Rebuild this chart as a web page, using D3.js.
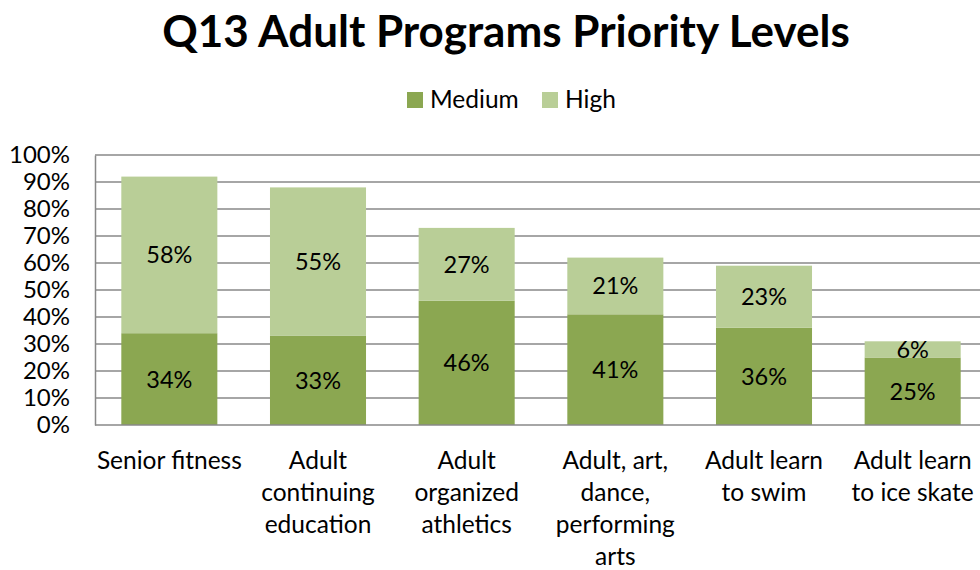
<!DOCTYPE html>
<html>
<head>
<meta charset="utf-8">
<script src="https://cdn.jsdelivr.net/npm/d3@7"></script>
<style>
  html, body { margin: 0; padding: 0; background: #fff; }
  svg { display: block; }
  text { font-family: "Lato", "Open Sans", "Noto Sans", sans-serif; fill: #000; }
</style>
</head>
<body>
<svg id="chart" width="980" height="570"></svg>
<script>
// Categories (multi-line axis labels) and stacked series values, in percent
const categories = [
  ["Senior fitness"],
  ["Adult", "continuing", "education"],
  ["Adult", "organized", "athletics"],
  ["Adult, art,", "dance,", "performing", "arts"],
  ["Adult learn", "to swim"],
  ["Adult learn", "to ice skate"]
];
const medium = [34, 33, 46, 41, 36, 25];
const high = [58, 55, 27, 21, 23, 6];
const seriesNames = ["Medium", "High"];
const yTicks = [0, 10, 20, 30, 40, 50, 60, 70, 80, 90, 100];

const colors = { Medium: "#8BA751", High: "#B9CE97" };

const svg = d3.select("#chart");
const W = 980, H = 570;
const plot = { left: 95, right: 987, top: 155, bottom: 425 };

const keys = categories.map((c, i) => i);
const x = d3.scaleBand()
  .domain(keys)
  .range([plot.left, plot.right])
  .paddingInner(0.354)
  .paddingOuter(0.177);
const y = d3.scaleLinear().domain([0, 100]).range([plot.bottom, plot.top]);

// Title
svg.append("text")
  .attr("x", 506).attr("y", 47)
  .attr("text-anchor", "middle")
  .style("font-size", "44px")
  .style("font-weight", "bold")
  .text("Q13 Adult Programs Priority Levels");

// Legend
const legend = svg.append("g");
const legendItems = [
  { name: "Medium", x: 407 },
  { name: "High", x: 542 }
];
legendItems.forEach(d => {
  legend.append("rect")
    .attr("x", d.x).attr("y", 92)
    .attr("width", 16).attr("height", 16)
    .attr("fill", colors[d.name]);
  legend.append("text")
    .attr("x", d.x + 23).attr("y", 108)
    .style("font-size", "24.5px")
    .text(d.name);
});

// Gridlines
svg.append("g")
  .selectAll("line")
  .data(yTicks.filter(t => t > 0))
  .join("line")
  .attr("x1", plot.left).attr("x2", W)
  .attr("y1", d => y(d)).attr("y2", d => y(d))
  .attr("stroke", "#888")
  .attr("stroke-width", 1.5);

// Y axis
const yAxis = d3.axisLeft(y)
  .tickValues(yTicks)
  .tickFormat(d => d + "%")
  .tickSize(0)
  .tickPadding(25);
const yg = svg.append("g")
  .attr("transform", `translate(${plot.left},0)`)
  .call(yAxis);
yg.select(".domain").attr("stroke", "#888").attr("stroke-width", 1.5);
yg.selectAll("text")
  .style("font-size", "24px")
  .style("font-family", "Lato, 'Open Sans', sans-serif")
  .attr("fill", "#000");

// Stacked bars
const rows = keys.map(i => ({ i, Medium: medium[i], High: high[i] }));
const stack = d3.stack().keys(seriesNames)(rows);

const layers = svg.append("g")
  .selectAll("g")
  .data(stack)
  .join("g")
  .attr("fill", d => colors[d.key]);

layers.selectAll("rect")
  .data(d => d)
  .join("rect")
  .attr("x", d => x(d.data.i))
  .attr("width", x.bandwidth())
  .attr("y", d => y(d[1]))
  .attr("height", d => y(d[0]) - y(d[1]));

// Value labels centered in each segment
layers.selectAll("text")
  .data(d => d.map(v => ({ v, key: d.key })))
  .join("text")
  .attr("x", d => x(d.v.data.i) + x.bandwidth() / 2)
  .attr("y", d => (y(d.v[0]) + y(d.v[1])) / 2)
  .attr("dy", "0.36em")
  .attr("text-anchor", "middle")
  .style("font-size", "23.5px")
  .attr("fill", "#000")
  .text(d => (d.v[1] - d.v[0]) + "%");

// X axis baseline
svg.append("line")
  .attr("x1", plot.left).attr("x2", W)
  .attr("y1", plot.bottom).attr("y2", plot.bottom)
  .attr("stroke", "#888")
  .attr("stroke-width", 1.5);

// Category labels (wrapped)
const xLabels = svg.append("g")
  .selectAll("text")
  .data(keys)
  .join("text")
  .attr("text-anchor", "middle")
  .attr("x", i => x(i) + x.bandwidth() / 2)
  .attr("y", 469)
  .style("font-size", "24.5px");
xLabels.selectAll("tspan")
  .data(i => categories[i].map(line => ({ line, cx: x(i) + x.bandwidth() / 2 })))
  .join("tspan")
  .attr("x", d => d.cx)
  .attr("dy", (d, j) => j === 0 ? 0 : 32)
  .text(d => d.line);
</script>
</body>
</html>
